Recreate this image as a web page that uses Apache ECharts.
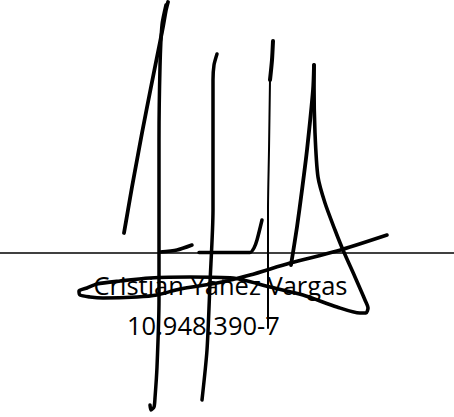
<!DOCTYPE html>
<html><head><meta charset="utf-8">
<script src="https://cdn.jsdelivr.net/npm/echarts@6/dist/echarts.min.js"></script>
<style>html,body{margin:0;padding:0;background:#fff}#c{width:454px;height:417px}</style>
</head><body><div id="c"></div>
<script>
// Texts
const nameText = "Cristian Yañez Vargas";
const idText = "10.948.390-7";
// Signature strokes (pixel-space points)
const signatureLine = [[0,253],[454,253]];
const strokeA = [[124,233],[128,210],[132,187],[137,160],[142,133],[151,87],[157,57],[163,27],[166,10],[168,2]];
const strokeB = [[166,5],[162,25],[160,67],[159,140],[159,210],[159,300],[157,367],[155,398],[154,407],[151,410],[150,405]];
const footB = [[160,252],[177,250],[192,245]];
const strokeC = [[217,54],[214,65],[213,80],[213,133],[213,210],[210,283],[207,350],[202,400]];
const footC = [[199,252.5],[250,252.5],[254,248],[257,240],[262,220]];
const strokeDTop = [[273,41],[272,60],[270,80]];
const strokeD = [[270,80],[269,150],[268,210],[268,328]];
const strokeELeft = [[314,65],[313,90],[307,150],[302,190],[297,227],[291,265]];
const strokeELoop = [[314,65],[314,83],[315,133],[318,177],[325,203],[335,230],[343,250],[355,277],[365,300],[368,308],[366,313],[360,313],[337,307],[303,295],[270,287],[233,278],[190,277],[150,278],[120,281],[97,284],[87,288],[79,291],[80,295],[90,297],[103,298],[137,297],[157,295],[180,289],[217,283],[250,275],[290,263],[337,251],[387,235]];

const strokes = [
  {d: strokeA, w: 3.8}, {d: strokeB, w: 3.5}, {d: footB, w: 3.5},
  {d: strokeC, w: 3.5}, {d: footC, w: 3.5},
  {d: strokeDTop, w: 4}, {d: strokeD, w: 2},
  {d: strokeELeft, w: 3.8}, {d: strokeELoop, w: 3.6}
];

const chart = echarts.init(document.getElementById('c'), null, {renderer: 'svg'});
const series = [{
  type: 'line', data: signatureLine, showSymbol: false, silent: true,
  lineStyle: {color: '#000', width: 1.4}
}].concat(strokes.map(s => ({
  type: 'line', data: s.d, showSymbol: false, smooth: 0.25, silent: true,
  lineStyle: {color: '#000', width: s.w, cap: 'round', join: 'round'}
})));

chart.setOption({
  animation: false,
  backgroundColor: '#fff',
  grid: {left: 0, right: 0, top: 0, bottom: 0},
  xAxis: {type: 'value', min: 0, max: 454, show: false},
  yAxis: {type: 'value', min: 0, max: 417, inverse: true, show: false},
  series: series,
  graphic: [
    {type: 'text', x: 93.5, y: 284.7, z: 10, style: {text: nameText, fill: '#000',
      font: '25.5px "Open Sans"', align: 'left', verticalAlign: 'middle'}},
    {type: 'text', x: 127, y: 325, z: 10, style: {text: idText, fill: '#000',
      font: '25.5px "Open Sans"', align: 'left', verticalAlign: 'middle'}}
  ]
});
</script></body></html>
